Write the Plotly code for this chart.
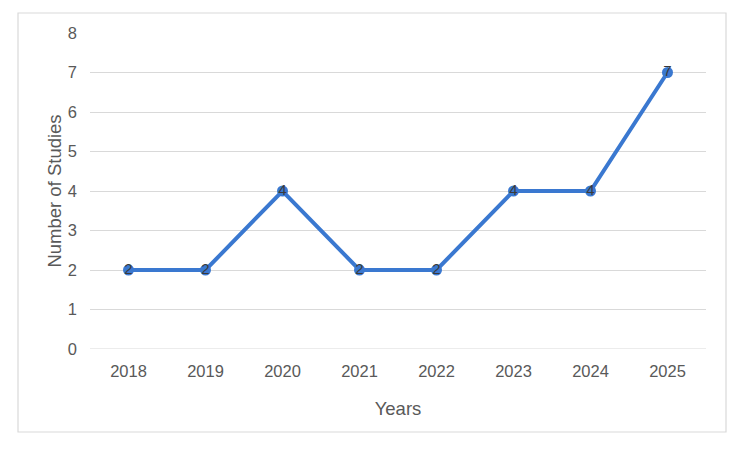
import plotly.graph_objects as go

years = ["2018", "2019", "2020", "2021", "2022", "2023", "2024", "2025"]
studies = [2, 2, 4, 2, 2, 4, 4, 7]

L, R, T, B = 90, 44, 33, 107
W, H = 750, 456
pw, ph = W - L - R, H - T - B

fig = go.Figure()
fig.add_trace(go.Scatter(
    x=years, y=studies, mode="lines+markers+text",
    line=dict(color="#3A78D0", width=4),
    marker=dict(color="#3A78D0", size=11),
    text=[str(v) for v in studies], textposition="middle center",
    textfont=dict(family="Liberation Sans, Arial", size=15, color="#3a3a3a"),
    cliponaxis=False, hoverinfo="skip",
))

fig.update_layout(
    width=W, height=H, margin=dict(l=L, r=R, t=T, b=B),
    paper_bgcolor="white", plot_bgcolor="white", showlegend=False,
    font=dict(family="Liberation Sans, Arial", size=16.5, color="#595959"),
    xaxis=dict(type="category", range=[-0.5, 7.5], showgrid=False, zeroline=False,
               showline=False, ticks="", ticklabelstandoff=10,
               title=dict(text="Years", font=dict(size=18.5, color="#595959"), standoff=23)),
    yaxis=dict(range=[0, 8], dtick=1, showgrid=True, gridcolor="#d9d9d9", gridwidth=1,
               zeroline=False, showline=False, ticks="", ticklabelstandoff=12,
               title=dict(text="Number of Studies", font=dict(size=18.5, color="#595959"), standoff=1)),
    shapes=[dict(type="rect", xref="paper", yref="paper",
                 x0=(18 - L) / pw, x1=(726 - L) / pw,
                 y0=(H - B - 432) / ph, y1=(H - B - 13) / ph,
                 line=dict(color="#d9d9d9", width=1.2), layer="below")],
)
fig.add_hline(y=0, line=dict(color="#d9d9d9", width=1), layer="below")

fig.write_html("out.html")
